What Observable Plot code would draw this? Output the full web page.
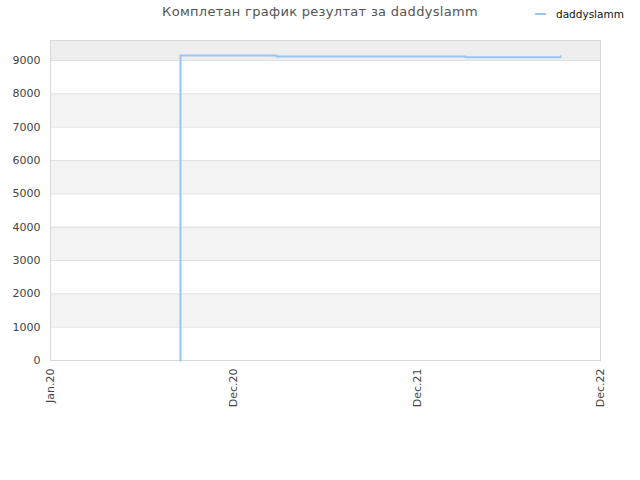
<!DOCTYPE html>
<html>
<head>
<meta charset="utf-8">
<script src="https://cdn.jsdelivr.net/npm/d3@7"></script>
<script src="https://cdn.jsdelivr.net/npm/@observablehq/plot@0.6"></script>
<style>
  html, body { margin: 0; padding: 0; background: #fff; }
  #wrap { position: relative; width: 640px; height: 480px; font-family: "DejaVu Sans", sans-serif; }
  #title { position: absolute; left: 0; width: 640px; top: 4px; text-align: center; font-size: 13px; color: #555; letter-spacing: 0.3px; }
  #legend { position: absolute; left: 535px; top: 8px; font-size: 10.5px; color: #111; display: flex; align-items: center; }
  #legend .sw { width: 11px; height: 2px; background: #99c5f2; margin-right: 10px; }
  #chart { position: absolute; left: 0; top: 0; }
</style>
</head>
<body>
<div id="wrap">
  <div id="chart"></div>
  <div id="title">Комплетан график резултат за daddyslamm</div>
  <div id="legend"><div class="sw"></div><span>daddyslamm</span></div>
</div>
<script>
const seriesName = "daddyslamm";
const xTickPos = [0, 1, 2, 3];
const xTickLabels = ["Jan.20", "Dec.20", "Dec.21", "Dec.22"];
const yTicks = [0, 1000, 2000, 3000, 4000, 5000, 6000, 7000, 8000, 9000];
const bandLow = [1000, 3000, 5000, 7000, 9000];
const bandHigh = [2000, 4000, 6000, 8000, 9600];
const xs = [0.709, 0.709, 1.233, 2.264, 2.782, 2.782];
const ys = [0, 9150, 9120, 9100, 9100, 9130];

const data = xs.map((x, i) => ({x, y: ys[i]}));
const bands = bandLow.map((lo, i) => ({lo, hi: bandHigh[i]}));

const plot = Plot.plot({
  width: 640,
  height: 480,
  marginLeft: 50,
  marginRight: 40,
  marginTop: 40,
  marginBottom: 120,
  style: {fontFamily: "DejaVu Sans, sans-serif", fontSize: "11px", color: "#444", background: "transparent"},
  x: {domain: [0, 3], axis: null},
  y: {domain: [0, 9600], axis: null},
  marks: [
    Plot.rect(bands, {x1: 0, x2: 3, y1: "lo", y2: "hi", fill: (d) => d.hi > 9000 ? "#eeeeee" : "#f3f3f3"}),
    Plot.ruleY(yTicks, {stroke: "#e0e0e0", strokeWidth: 1}),
    Plot.frame({stroke: "#d8d8d8"}),
    Plot.axisY(yTicks, {tickSize: 0, tickPadding: 10, label: null, tickFormat: d => String(d), fill: "#444", fontSize: 11}),
    Plot.axisX(xTickPos, {tickSize: 0, tickRotate: -90, tickPadding: 8, label: null, tickFormat: (d, i) => xTickLabels[i], fill: "#444", fontSize: 11}),
    Plot.line(data, {x: "x", y: "y", curve: "step-after", stroke: "#99c5f2", strokeWidth: 2})
  ]
});
document.getElementById("chart").appendChild(plot);
</script>
</body>
</html>
